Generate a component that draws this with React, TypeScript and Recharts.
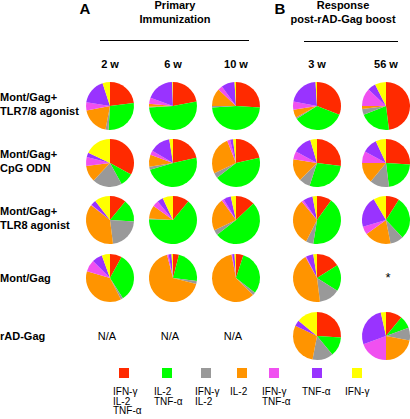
import React from "react";
import { Cell, Pie, PieChart } from "recharts";

// cytokine subsets, clockwise from 12 o'clock
const SUBSETS = [
  ["IFN-γ", "IL-2", "TNF-α"],
  ["IL-2", "TNF-α"],
  ["IFN-γ", "IL-2"],
  ["IL-2"],
  ["IFN-γ", "TNF-α"],
  ["TNF-α"],
  ["IFN-γ"],
];
const COLORS = ["#ff2a00", "#00ff00", "#999999", "#ff9400", "#f050f0", "#9933ff", "#ffff00"];

const WEEKS = ["2 w", "6 w", "10 w", "3 w", "56 w"];
const GROUPS = [
  ["Mont/Gag+", "TLR7/8 agonist"],
  ["Mont/Gag+", "CpG ODN"],
  ["Mont/Gag+", "TLR8 agonist"],
  ["Mont/Gag"],
  ["rAD-Gag"],
];

// percent of responding cells per subset; null = not measured
const TLR78 = [
  [23, 28, 2, 19, 5.5, 17.5, 5],
  [22, 52, 0.5, 2, 4, 19, 0.5],
  [26, 48, 1, 12, 3, 9, 1],
  [31, 35, 1, 5.5, 5.5, 21, 1],
  [48, 21, 4, 2, 12, 5.5, 7.5],
];
const CPG = [
  [33, 9, 20, 11, 6, 3, 18],
  [21.5, 49, 2, 8, 3, 14, 2.5],
  [21.5, 43, 3.5, 26, 2, 2, 2],
  [27, 28, 7.5, 15, 5.5, 12.5, 4.5],
  [26, 22, 13, 14, 8, 10, 7],
];
const TLR8 = [
  [11, 15, 22, 37.5, 0.5, 3.5, 10.5],
  [11, 64.5, 0.5, 9, 4, 4, 7],
  [13, 51.5, 3.5, 22, 1.5, 5, 3.5],
  [10, 42.5, 5, 31.5, 1.5, 6.5, 3],
  [9, 29, 9, 18, 5.5, 21, 8.5],
];
const MONT = [
  [8, 33, 1.5, 37, 8, 7, 5.5],
  [4, 23, 2, 67, 1, 2, 1],
  [5, 30.5, 2, 59.5, 0.5, 1.5, 1],
  [16, 18, 14, 44, 0.5, 5, 2.5],
  null,
];
const RADGAG = [
  null,
  null,
  null,
  [26, 13, 14, 29, 0, 4, 14],
  [11, 8.5, 8.5, 22, 19.5, 27, 3.5],
];
const ROWS = [TLR78, CPG, TLR8, MONT, RADGAG];

const COL_X = [110, 173, 236, 317, 386];
const ROW_Y = [106, 163, 220, 278, 336];
const FONT = "'Liberation Sans', Arial, sans-serif";

function Txt({
  x,
  y,
  children,
  size = 11,
  bold = true,
  align = "center",
  lh = 1.3,
}: {
  x: number;
  y: number;
  children: React.ReactNode;
  size?: number;
  bold?: boolean;
  align?: "center" | "left";
  lh?: number;
}) {
  return (
    <div
      style={{
        position: "absolute",
        left: x,
        top: y,
        transform: align === "center" ? "translate(-50%, -50%)" : "translate(0, -50%)",
        fontFamily: FONT,
        fontSize: size,
        fontWeight: bold ? 700 : 400,
        lineHeight: lh,
        whiteSpace: "nowrap",
        textAlign: align,
        color: "#000",
      }}
    >
      {children}
    </div>
  );
}

export default function App() {
  const pies: React.ReactNode[] = [];
  ROWS.forEach((row, r) =>
    row.forEach((values, c) => {
      if (!values) return;
      const data = values.map((value, i) => ({ name: SUBSETS[i].join(" "), value }));
      pies.push(
        <Pie
          key={`${r}-${c}`}
          data={data}
          dataKey="value"
          cx={COL_X[c]}
          cy={ROW_Y[r]}
          outerRadius={24}
          startAngle={90}
          endAngle={-270}
          stroke="none"
          isAnimationActive={false}
        >
          {data.map((d, i) => (
            <Cell key={d.name} fill={COLORS[i]} />
          ))}
        </Pie>
      );
    })
  );

  return (
    <div
      style={{
        position: "absolute",
        left: 0,
        top: 0,
        width: 410,
        height: 419,
        background: "#fff",
        overflow: "hidden",
      }}
    >
      <div style={{ position: "absolute", left: 0, top: 0 }}>
        <PieChart width={410} height={419} margin={{ top: 0, right: 0, bottom: 0, left: 0 }}>
          {pies}
        </PieChart>
      </div>

      <Txt x={85} y={7.5} size={15} lh={1}>A</Txt>
      <Txt x={280} y={7.5} size={15} lh={1}>B</Txt>
      <Txt x={175} y={12}>
        Primary
        <br />
        Immunization
      </Txt>
      <Txt x={343} y={12}>
        Response
        <br />
        post-rAD-Gag boost
      </Txt>
      <div style={{ position: "absolute", left: 100, top: 40, width: 149, height: 1, background: "#000" }} />
      <div style={{ position: "absolute", left: 304, top: 41, width: 94, height: 1, background: "#000" }} />

      {WEEKS.map((w, c) => (
        <Txt key={w} x={COL_X[c]} y={64}>
          {w}
        </Txt>
      ))}

      {GROUPS.map((lines, r) => (
        <Txt key={r} x={0} y={ROW_Y[r] - (lines.length > 1 ? 2 : 0)} align="left">
          {lines.map((l, i) => (
            <React.Fragment key={i}>
              {i > 0 && <br />}
              {l}
            </React.Fragment>
          ))}
        </Txt>
      ))}

      {RADGAG.map((v, c) =>
        v ? null : (
          <Txt key={c} x={COL_X[c] - 3} y={ROW_Y[4]} bold={false}>
            N/A
          </Txt>
        )
      )}
      <Txt x={388} y={278} bold={false} size={13}>*</Txt>

      {SUBSETS.map((lines, i) => {
        const sq = [124, 167, 206, 242, 274, 317, 357][i];
        const lx = [113, 154, 195, 230, 262, 302, 345][i];
        return (
          <React.Fragment key={i}>
            <div
              style={{
                position: "absolute",
                left: sq - 5,
                top: 368,
                width: 10,
                height: 10,
                background: COLORS[i],
              }}
            />
            <div
              style={{
                position: "absolute",
                left: lx,
                top: 387,
                fontFamily: FONT,
                fontSize: 10,
                lineHeight: "9.7px",
                whiteSpace: "nowrap",
              }}
            >
              {lines.map((l, j) => (
                <div key={j}>{l}</div>
              ))}
            </div>
          </React.Fragment>
        );
      })}
    </div>
  );
}
